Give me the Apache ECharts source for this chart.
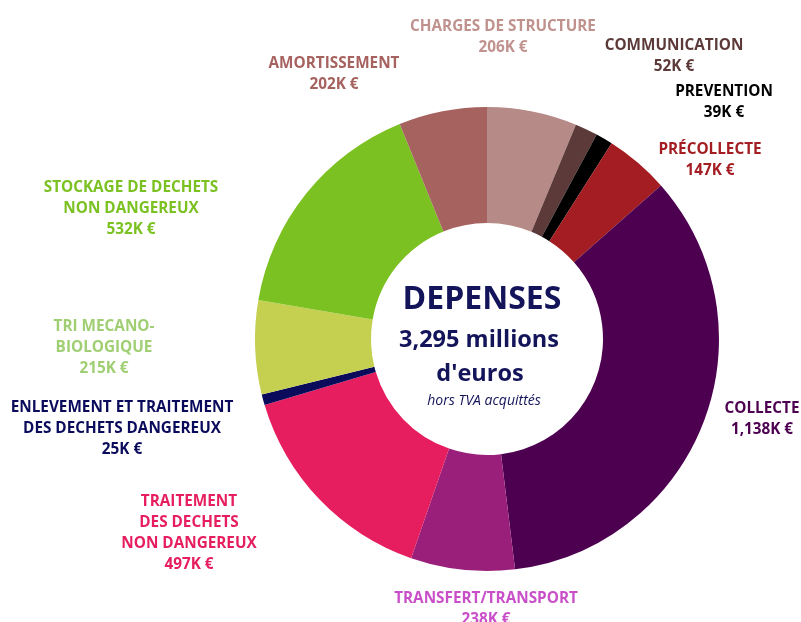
<!DOCTYPE html>
<html>
<head>
<meta charset="utf-8">
<script src="https://cdn.jsdelivr.net/npm/echarts@6/dist/echarts.min.js"></script>
<style>
  html, body { margin: 0; padding: 0; background: #fff; }
  #chart { width: 801px; height: 622px; }
</style>
</head>
<body>
<div id="chart"></div>
<script>
// postes de dépenses, dans le sens horaire depuis midi
const categories = [
  'CHARGES DE STRUCTURE',
  'COMMUNICATION',
  'PREVENTION',
  'PRÉCOLLECTE',
  'COLLECTE',
  'TRANSFERT/TRANSPORT',
  'TRAITEMENT\nDES DECHETS\nNON DANGEREUX',
  'ENLEVEMENT ET TRAITEMENT\nDES DECHETS DANGEREUX',
  'TRI MECANO-\nBIOLOGIQUE',
  'STOCKAGE DE DECHETS\nNON DANGEREUX',
  'AMORTISSEMENT'
]
// montants en K€
const values = [206, 52, 39, 147, 1138, 238, 497, 25, 215, 532, 202]

const sliceColors = ['#b68a86', '#5c3a39', '#000000', '#a31d22', '#4e0050', '#9a1f7b',
  '#e61e5f', '#0b0b5c', '#c5d051', '#7bc121', '#a6625f']
const labelColors = ['#c0928d', '#5c3a39', '#000000', '#a31d22', '#4e0050', '#c94fc9',
  '#e61e5f', '#0b0b5c', '#9fcf72', '#7bc121', '#a6625f']
// centre de chaque étiquette (px)
const labelPos = [[503, 37], [674, 56], [724, 102], [710, 160], [762, 419], [486, 609],
  [189, 533], [122, 429], [104, 348], [131, 209], [334, 74]]

const chart = echarts.init(document.getElementById('chart'))

const pieData = categories.map((name, i) => {
  return {
    name: name,
    value: values[i],
    itemStyle: { color: sliceColors[i] },
    label: { color: labelColors[i] }
  }
})

const option = {
  animation: false,
  series: [
    {
      type: 'pie',
      center: [487, 339],
      radius: [116, 232],
      startAngle: 90,
      clockwise: true,
      avoidLabelOverlap: false,
      data: pieData,
      label: {
        show: true,
        position: 'outside',
        fontFamily: 'Open Sans',
        fontWeight: 'bold',
        fontSize: 15.3,
        lineHeight: 21,
        align: 'center',
        formatter: (p) => p.name + '\n' + p.value.toLocaleString('en-US') + 'K €'
      },
      labelLine: { show: false },
      labelLayout: (params) => {
        const pos = labelPos[params.dataIndex]
        return { x: pos[0], y: pos[1], align: 'center', verticalAlign: 'middle' }
      },
      emphasis: { disabled: true }
    }
  ],
  graphic: [
    {
      type: 'text',
      x: 482, y: 300,
      style: {
        text: 'DEPENSES', fill: '#14145a', font: 'bold 32px "Open Sans"',
        textAlign: 'center', textVerticalAlign: 'middle'
      }
    },
    {
      type: 'text',
      x: 479, y: 340,
      style: {
        text: '3,295 millions', fill: '#14145a', font: 'bold 23.5px "Open Sans"',
        textAlign: 'center', textVerticalAlign: 'middle'
      }
    },
    {
      type: 'text',
      x: 480, y: 374,
      style: {
        text: "d'euros", fill: '#14145a', font: 'bold 23.5px "Open Sans"',
        textAlign: 'center', textVerticalAlign: 'middle'
      }
    },
    {
      type: 'text',
      x: 484, y: 401,
      style: {
        text: 'hors TVA acquittés', fill: '#14145a', font: 'italic 14px "Open Sans"',
        textAlign: 'center', textVerticalAlign: 'middle'
      }
    }
  ]
}

chart.setOption(option)
</script>
</body>
</html>
